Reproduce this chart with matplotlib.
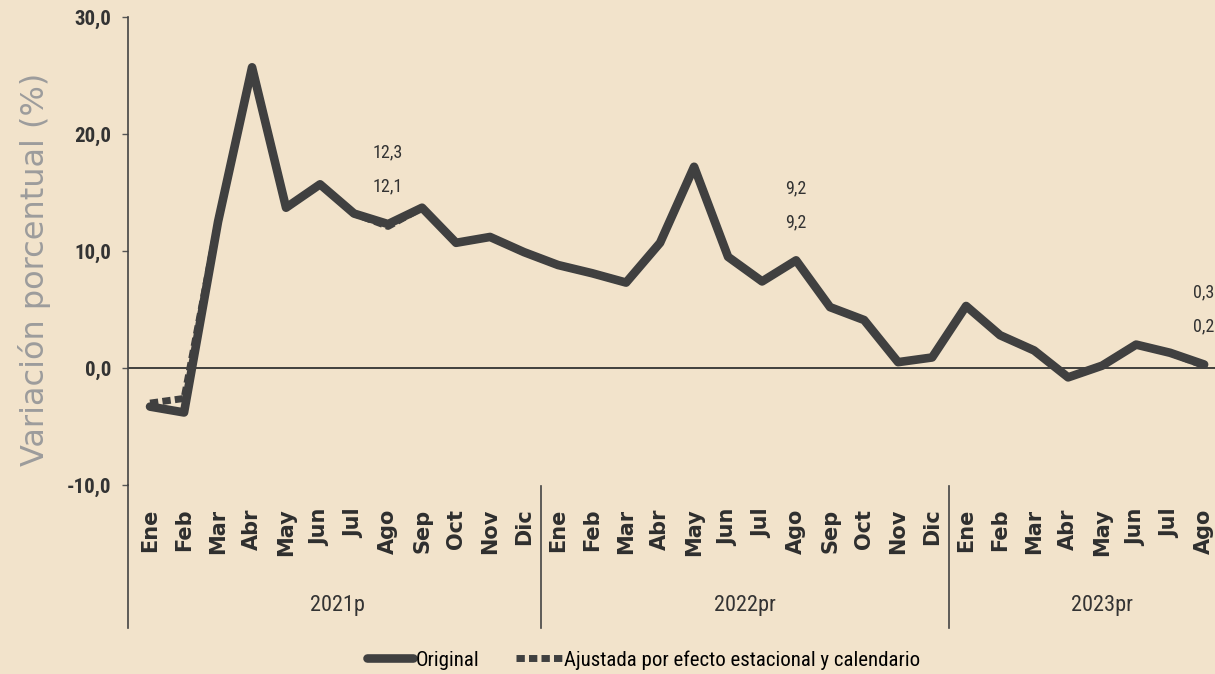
import matplotlib.pyplot as plt
from matplotlib.lines import Line2D

# meses (2021p ene .. 2023pr ago)
meses = ['Ene', 'Feb', 'Mar', 'Abr', 'May', 'Jun', 'Jul', 'Ago', 'Sep', 'Oct', 'Nov', 'Dic',
         'Ene', 'Feb', 'Mar', 'Abr', 'May', 'Jun', 'Jul', 'Ago', 'Sep', 'Oct', 'Nov', 'Dic',
         'Ene', 'Feb', 'Mar', 'Abr', 'May', 'Jun', 'Jul', 'Ago']
anios = ['2021p', '2022pr', '2023pr']

# variacion porcentual, serie original
original = [-3.3, -3.8, 12.5, 25.7, 13.7, 15.7, 13.2, 12.3, 13.7, 10.7, 11.2, 9.9,
            8.8, 8.1, 7.3, 10.7, 17.2, 9.5, 7.4, 9.2, 5.2, 4.1, 0.5, 0.9,
            5.3, 2.8, 1.5, -0.8, 0.2, 2.0, 1.3, 0.3]
# ajustada por efecto estacional y calendario
ajustada = [-3.0, -2.6, 12.5, 25.7, 13.7, 15.7, 13.2, 12.1, 13.7, 10.7, 11.2, 9.9,
            8.8, 8.1, 7.3, 10.7, 17.2, 9.5, 7.4, 9.2, 5.2, 4.1, 0.5, 0.9,
            5.3, 2.8, 1.5, -0.8, 0.2, 2.0, 1.3, 0.2]
# meses con etiqueta (indice)
idx_etiq = [7, 19, 31]

bg = '#f2e3cb'
gris = '#404040'
narrow = ['Liberation Sans Narrow', 'Roboto Condensed', 'Open Sans', 'DejaVu Sans']

fig = plt.figure(figsize=(12.15, 6.74), dpi=100, facecolor=bg)
ax = fig.add_axes([0.1053, 0.2804, 0.8947, 0.6944], facecolor=bg)

x = list(range(len(meses)))
ax.plot(x, ajustada, color=gris, lw=5, ls=(0, (1.2, 0.6)), solid_joinstyle='round',
        label='Ajustada por efecto estacional y calendario', zorder=3)
ax.plot(x, original, color=gris, lw=6.2, solid_joinstyle='round', solid_capstyle='round',
        label='Original', zorder=4)
ax.axhline(0, color='#333333', lw=1.3, zorder=2)

ax.set_xlim(-0.65, 31.32)
ax.set_ylim(-10, 30)
ax.set_yticks([-10, 0, 10, 20, 30])
ax.set_yticklabels(['-10,0', '0,0', '10,0', '20,0', '30,0'],
                   family=narrow, fontsize=15, fontweight='bold', color='#333333')
ax.set_xticks(x)
ax.set_xticklabels(meses, rotation=90, fontsize=15, fontweight='bold', color='#2e2e2e',
                   va='top')
ax.tick_params(axis='x', length=0, pad=17)
ax.tick_params(axis='y', length=4, width=1, color='#555555', pad=8)

for s in ['top', 'right', 'bottom']:
    ax.spines[s].set_visible(False)
ax.spines['left'].set_color('#444444')
ax.spines['left'].set_linewidth(1.2)

# eje izquierdo prolongado y separadores de anio
ax.add_line(Line2D([0, 0], [0, -0.306], transform=ax.transAxes, color='#444444',
                   lw=1.2, clip_on=False))
for xs in [11.5, 23.5]:
    ax.plot([xs, xs], [-10.1, -22.2], color='#444444', lw=1.2, clip_on=False)

for xc, txt in zip([5.5, 17.5, 28.0], anios):
    ax.text(xc, -20.3, txt, ha='center', va='center', family=narrow, fontsize=16,
            color='#333333')

for i in idx_etiq:
    ax.annotate(f'{original[i]:.1f}'.replace('.', ','), (i, original[i]), xytext=(0, 72),
                textcoords='offset pixels', ha='center', va='center', family=narrow,
                fontsize=13, color='#333333')
    ax.annotate(f'{ajustada[i]:.1f}'.replace('.', ','), (i, original[i]), xytext=(0, 38),
                textcoords='offset pixels', ha='center', va='center', family=narrow,
                fontsize=13, color='#333333')

ax.set_ylabel('Variación porcentual (%)', fontsize=23, color='#9c9c9c')
ax.yaxis.set_label_coords(-0.071, 0.46)

h, l = ax.get_legend_handles_labels()
fig.legend(h[::-1], l[::-1], loc='center', bbox_to_anchor=(0.53, 0.021), ncol=2,
           frameon=False, prop={'family': narrow, 'size': 15}, handlelength=2.2,
           handletextpad=0.1, columnspacing=1.8)

fig.savefig('out.png', dpi=100, facecolor=bg)
